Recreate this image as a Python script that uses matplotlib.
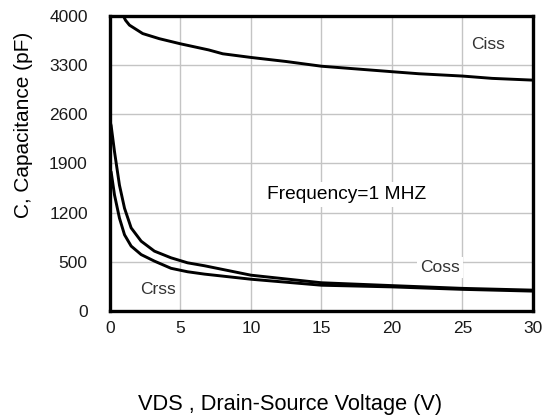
import numpy as np
import matplotlib
matplotlib.use("Agg")
import matplotlib.pyplot as plt

plt.rcParams['font.family'] = ['Liberation Sans', 'DejaVu Sans']

# ---- data ----
ciss_v = [0.95, 1.1, 1.38, 2.32, 3.5, 5.0, 7.0, 8.0, 10.0, 12.5, 15.0, 20.0, 21.9, 25.0, 27.1, 30.0]
ciss_c = [4000, 3940, 3870, 3750, 3677, 3604, 3517, 3462, 3410, 3352, 3285, 3207, 3178, 3145, 3112, 3087]

coss_v = [0.0, 0.08, 0.32, 0.67, 1.03, 1.5, 2.21, 3.15, 4.33, 5.5, 6.7, 10.0, 15.0, 20.0, 25.0, 30.0]
coss_c = [2500, 2440, 2068, 1592, 1263, 983, 794, 652, 557, 490, 460, 364, 287, 258, 230, 212]

crss_v = [0.0, 0.08, 0.32, 0.67, 1.03, 1.5, 2.21, 3.15, 4.33, 5.5, 6.7, 10.0, 15.0, 20.0, 25.0, 30.0]
crss_c = [1800, 1781, 1452, 1123, 885, 724, 603, 510, 434, 399, 375, 323, 262, 245, 220, 202]

x_ticks = [0, 5, 10, 15, 20, 25, 30]
y_ticks = [0, 500, 1200, 1900, 2600, 3300, 4000]
y_tick_labels = ['0', '500', '1200', '1900', '2600', '3300', '4000']


# piecewise-linear axis: 0-500 takes one grid division, then 700 per division
def fwd(v):
    v = np.asarray(v, dtype=float)
    return np.where(v <= 500, v / 500.0, 1 + (v - 500) / 700.0)


def inv(u):
    u = np.asarray(u, dtype=float)
    return np.where(u <= 1, u * 500.0, 500 + (u - 1) * 700.0)


fig = plt.figure(figsize=(5.44, 4.19), dpi=100)
ax = fig.add_axes([0.2022, 0.2578, 0.7775, 0.704])
ax.set_yscale('function', functions=(fwd, inv))

lw = 2.1
ax.plot(ciss_v, ciss_c, color='black', lw=lw, solid_capstyle='round', zorder=3)
ax.plot(coss_v, coss_c, color='black', lw=lw, solid_capstyle='round', zorder=3)
ax.plot(crss_v, crss_c, color='black', lw=lw, solid_capstyle='round', zorder=3)

ax.set_xlim(0, 30)
ax.set_ylim(0, 4000)
ax.set_xticks(x_ticks)
ax.set_xticklabels([str(t) for t in x_ticks])
ax.set_yticks(y_ticks)
ax.set_yticklabels(y_tick_labels)
ax.tick_params(axis='both', length=0, labelsize=12.5, colors='#1a1a1a')
ax.tick_params(axis='y', pad=16)
ax.tick_params(axis='x', pad=7)

ax.grid(True, color='#c4c4c4', lw=1.0, zorder=0)
for s in ax.spines.values():
    s.set_linewidth(2.4)
    s.set_color('black')

txt_kw = dict(fontsize=12.5, color='#333333', zorder=2,
              bbox=dict(facecolor='white', edgecolor='none', pad=2))
ax.text(26.8, 3594, 'Ciss', ha='center', va='center', **txt_kw)
ax.text(23.4, 440, 'Coss', ha='center', va='center', **txt_kw)
ax.text(3.4, 222, 'Crss', ha='center', va='center', **txt_kw)
ax.text(16.8, 1461, 'Frequency=1 MHZ', ha='center', va='center', fontsize=13.8,
        color='black', zorder=2,
        bbox=dict(facecolor='white', edgecolor='none', pad=3))

ax.set_ylabel('C, Capacitance (pF)', fontsize=15)
ax.yaxis.set_label_coords(-0.181, 0.63)
ax.set_xlabel('VDS , Drain-Source Voltage (V)', fontsize=15.7)
ax.xaxis.set_label_coords(0.426, -0.283)

fig.savefig('out.png', dpi=100)
